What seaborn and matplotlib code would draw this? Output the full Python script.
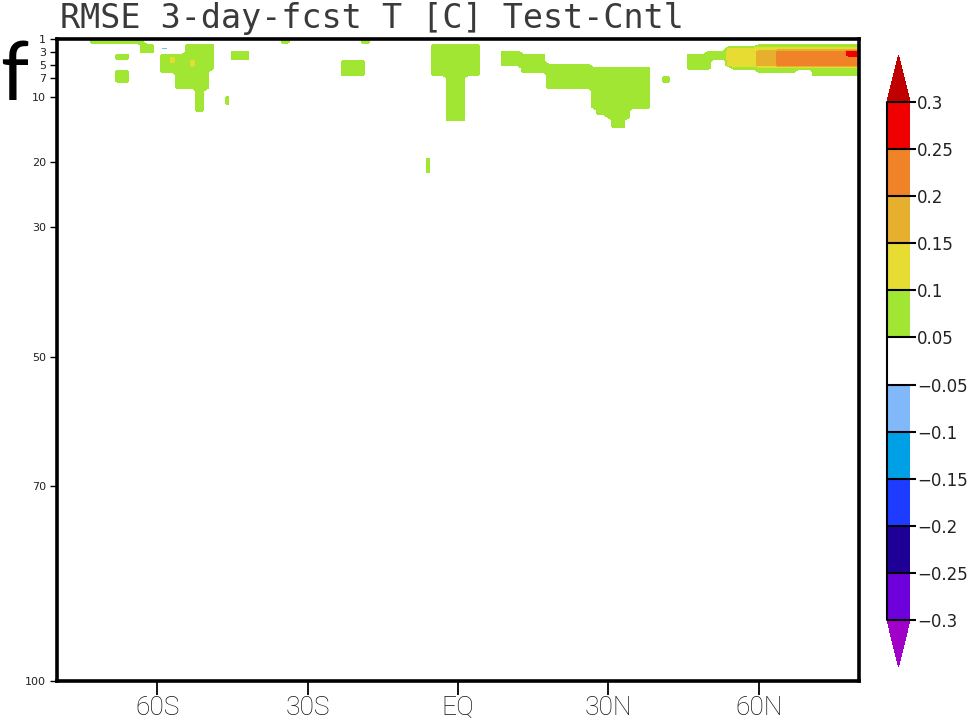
import numpy as np
import matplotlib
matplotlib.use("Agg")
import matplotlib.pyplot as plt
from matplotlib.colors import ListedColormap, BoundaryNorm
import seaborn as sns

# ---------------- data ----------------
# colour-interval levels of the difference field
levels = [-0.3, -0.25, -0.2, -0.15, -0.1, -0.05, 0.05, 0.1, 0.15, 0.2, 0.25, 0.3]
cbar_labels = ["\u22120.3", "\u22120.25", "\u22120.2", "\u22120.15", "\u22120.1", "\u22120.05",
               "0.05", "0.1", "0.15", "0.2", "0.25", "0.3"]
band_colors = ["#6e00dc", "#1e0096", "#1e3cff", "#00a0e6", "#80b8fa", "#ffffff",
               "#a0e632", "#e6dc32", "#e6af2d", "#f08228", "#f00000"]
over_color = "#c00000"
under_color = "#a000c8"

# axes
x_ticks = [-60, -30, 0, 30, 60]
x_labels = ["60S", "30S", "EQ", "30N", "60N"]
y_ticks = [1, 3, 5, 7, 10, 20, 30, 50, 70, 100]

# patches of the field: latitude span, level span, value
patch_lat0 = [-73, -63, -68, -68.5, -59.5, -54, -56, -52.8, -45.5, -46.3, -39.5, -35.5,
              -23, -19.5, -5, -2.6, -5, -0.6, -6.6,
              8.4, 12.4, 17.7, 26.9, 27.7, 30, 31, 41, 46,
              43, 47, 50, 55, 60, 67, 71,
              -57.5, -53.5, 54, 60, 64, 78,
              -59, 60, 70.5]
patch_lat1 = [-63, -61, -66, -65.5, -53, -48.5, -49.5, -51, -42, -45.7, -38.5, -33.5,
              -18.5, -18, 4, 1, -3, 1.4, -5.4,
              12.4, 17.7, 26.9, 38.3, 30.3, 34.5, 33.5, 42, 50,
              45, 48.5, 55, 60, 67, 71, 80,
              -56.5, -52.5, 80, 80, 80, 80,
              -58, 80, 73]
patch_dep0 = [1, 1.6, 3.2, 5.8, 3.2, 2, 5.5, 8.5, 2.7, 9.6, 1, 1,
              4.2, 1, 1.9, 6.5, 1, 1, 19.2,
              2.7, 3.2, 4.7, 5.5, 10.7, 11.6, 13, 6.9, 3.5,
              1, 1, 2.6, 2.3, 2, 1.9, 1.7,
              4, 4.3, 2.5, 2.6, 2.8, 3.0,
              2.2, 1, 1]
patch_dep1 = [1.9, 3, 4.2, 7.8, 6.2, 5.5, 8.5, 12.4, 4.2, 11, 1.3, 1.8,
              6.5, 1.6, 6.5, 13.5, 1.4, 1.4, 21.5,
              5, 6.1, 8.6, 11.6, 12.7, 13, 14.6, 7.6, 5.8,
              1.3, 1.3, 4.3, 5.5, 6.3, 5.5, 6.7,
              4.6, 5, 5.3, 5.2, 5.0, 3.8,
              2.6, 1.3, 1.3]
patch_val = [0.07, 0.07, 0.07, 0.07, 0.07, 0.07, 0.07, 0.07, 0.07, 0.07, 0.07, 0.07,
             0.07, 0.07, 0.07, 0.07, 0.07, 0.07, 0.07,
             0.07, 0.07, 0.07, 0.07, 0.07, 0.07, 0.07, 0.07, 0.07,
             0.07, 0.07, 0.07, 0.07, 0.07, 0.07, 0.07,
             0.12, 0.12, 0.12, 0.17, 0.22, 0.27,
             -0.07, -0.07, -0.12]

# ---------------- build grid from the patches ----------------
lat = np.arange(-80, 80.01, 1.0)
dep = np.arange(1, 100.01, 0.5)
LAT, DEP = np.meshgrid(lat, dep)
field = np.zeros_like(LAT)
for a0, a1, d0, d1, v in zip(patch_lat0, patch_lat1, patch_dep0, patch_dep1, patch_val):
    m = (LAT >= a0) & (LAT <= a1) & (DEP >= d0) & (DEP <= d1)
    field[m] = v

# ---------------- plot ----------------
sns.set_theme(style="white")
plt.rcParams["font.family"] = ["DejaVu Sans"]

cmap = ListedColormap(band_colors)
cmap.set_over(over_color)
cmap.set_under(under_color)
norm = BoundaryNorm(levels, cmap.N)

fig = plt.figure(figsize=(9.77, 7.26), dpi=100)
fig.patch.set_facecolor("white")
ax = fig.add_axes([57 / 977, 1 - 681 / 726, (859 - 57) / 977, (681 - 39) / 726])
ax.set_facecolor("white")

cs = ax.contourf(lat, dep, field, levels=levels, cmap=cmap, norm=norm, extend="both")

ax.set_xlim(-80, 80)
ax.set_ylim(100, 1)
ax.set_xticks(x_ticks)
ax.set_xticklabels(x_labels, family=["Roboto", "DejaVu Sans"], fontweight="light",
                   fontsize=19)
ax.set_yticks(y_ticks)
ax.set_yticklabels([str(t) for t in y_ticks], fontsize=8)
ax.tick_params(axis="x", direction="out", length=10, width=1.3, pad=1, color="black",
               bottom=True, top=False, labelcolor="#111111")
ax.tick_params(axis="y", direction="out", length=5, width=1.0, pad=3, color="black",
               left=True, right=False, labelcolor="#222222")
for s in ax.spines.values():
    s.set_visible(True)
    s.set_color("black")
    s.set_linewidth(2.6)
ax.set_xlabel("")
ax.set_ylabel("")

# colorbar (axes spans the extension tips; interior is 102..620 px)
cax = fig.add_axes([887 / 977, 1 - 667 / 726, 23 / 977, (667 - 55) / 726])
cb = fig.colorbar(cs, cax=cax, orientation="vertical", extend="both",
                  extendfrac=47 / 518, drawedges=True, spacing="uniform")
cb.outline.set_visible(False)
cb.dividers.set_color("black")
cb.dividers.set_linewidth(1.5)
cb.set_ticks(levels)
cb.set_ticklabels(cbar_labels)
cax.tick_params(axis="y", direction="out", length=4, width=1.5, pad=1, labelsize=12,
                right=True, left=False, color="black", labelcolor="#222222")
cax.plot([0, 0], [0, 1], transform=cax.transAxes, color="black", lw=1.5, clip_on=False)

# title and panel letter
fig.text(60 / 977, 1 - 28 / 726, "RMSE 3-day-fcst T [C] Test-Cntl",
         family=["DejaVu Sans Mono", "DejaVu Sans"], fontsize=24,
         color="#3a3a3a", ha="left", va="baseline")
fig.text(0.0, 1 - 100 / 726, "f", family=["Lato", "DejaVu Sans"], fontsize=58,
         color="black", ha="left", va="baseline")

fig.savefig("out.png", dpi=100, facecolor="white")
